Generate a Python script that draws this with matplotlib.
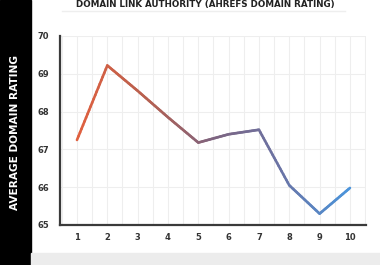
import numpy as np
import matplotlib
matplotlib.use("Agg")
import matplotlib.pyplot as plt
from matplotlib.collections import LineCollection
from matplotlib.colors import LinearSegmentedColormap

positions = [1, 2, 3, 4, 5, 6, 7, 8, 9, 10]
ratings = [67.25, 69.22, 68.55, 67.85, 67.18, 67.4, 67.52, 66.05, 65.3, 65.98]
xtick_labels = ["1", "2", "3", "4", "5", "6", "7", "8", "9", "10"]
yticks = [65, 66, 67, 68, 69, 70]
title = "DOMAIN LINK AUTHORITY (AHREFS DOMAIN RATING)"
ylabel = "AVERAGE DOMAIN RATING"

fig = plt.figure(figsize=(3.8, 2.65), dpi=100)
fig.patch.set_facecolor("white")

# black strip on the left
fig.add_artist(plt.Rectangle((0, 0), 31/380, 1, transform=fig.transFigure,
                             color="black", zorder=0))
# grey band at bottom
fig.add_artist(plt.Rectangle((31/380, 0), 1, 12/265, transform=fig.transFigure,
                             color="#ececec", zorder=0))
# faint line under title
fig.add_artist(plt.Line2D([62/380, 345/380], [254/265, 254/265], transform=fig.transFigure,
                          color="#eeeeee", lw=1))

fig.text(15/380, 0.5, ylabel, rotation=90, color="white", fontsize=7.6,
         fontweight="bold", ha="center", va="center", family="DejaVu Sans")
fig.text(205/380, 264.5/265, title, color="#222222", fontsize=6.3, fontweight="bold",
         ha="center", va="top", family="DejaVu Sans")

ax = fig.add_axes([60/380, 40/265, 306/380, 189/265])
ax.set_xlim(0.44, 10.53)
ax.set_ylim(65, 70)

x = np.array(positions, dtype=float)
y = np.array(ratings, dtype=float)
# subdivide for smooth gradient
fine_x, fine_y = [], []
for i in range(len(x) - 1):
    t = np.linspace(0, 1, 20, endpoint=False)
    fine_x.extend(x[i] + (x[i+1]-x[i]) * t)
    fine_y.extend(y[i] + (y[i+1]-y[i]) * t)
fine_x.append(x[-1]); fine_y.append(y[-1])
pts = np.array([fine_x, fine_y]).T.reshape(-1, 1, 2)
segs = np.concatenate([pts[:-1], pts[1:]], axis=1)
cmap = LinearSegmentedColormap.from_list("g", ["#e0603f", "#b8604f", "#7e6480", "#6a74a6", "#4a95dc"])
lc = LineCollection(segs, cmap=cmap, norm=plt.Normalize(1, 10), linewidth=1.9,
                    capstyle="round", joinstyle="round")
lc.set_array(np.array(fine_x[:-1]))
ax.add_collection(lc)

ax.set_xticks(positions)
ax.set_xticklabels(xtick_labels)
ax.set_yticks(yticks)
ax.set_xticks(np.arange(0.5, 10.6, 0.5), minor=True)
ax.grid(True, which="major", axis="y", color="#eeeeee", lw=0.8)
ax.grid(True, which="minor", axis="x", color="#eeeeee", lw=0.8)
ax.grid(True, which="major", axis="x", color="#eeeeee", lw=0.8)
ax.set_axisbelow(True)
ax.tick_params(axis="both", which="both", length=0, labelsize=6, colors="#333333", pad=6)
for lbl in ax.get_xticklabels() + ax.get_yticklabels():
    lbl.set_fontweight("bold")
ax.tick_params(axis="y", pad=8)
for s in ["top", "right"]:
    ax.spines[s].set_visible(False)
for s in ["left", "bottom"]:
    ax.spines[s].set_color("#3a3a3a")
    ax.spines[s].set_linewidth(1.6)

fig.savefig("out.png", dpi=100, facecolor="white")
